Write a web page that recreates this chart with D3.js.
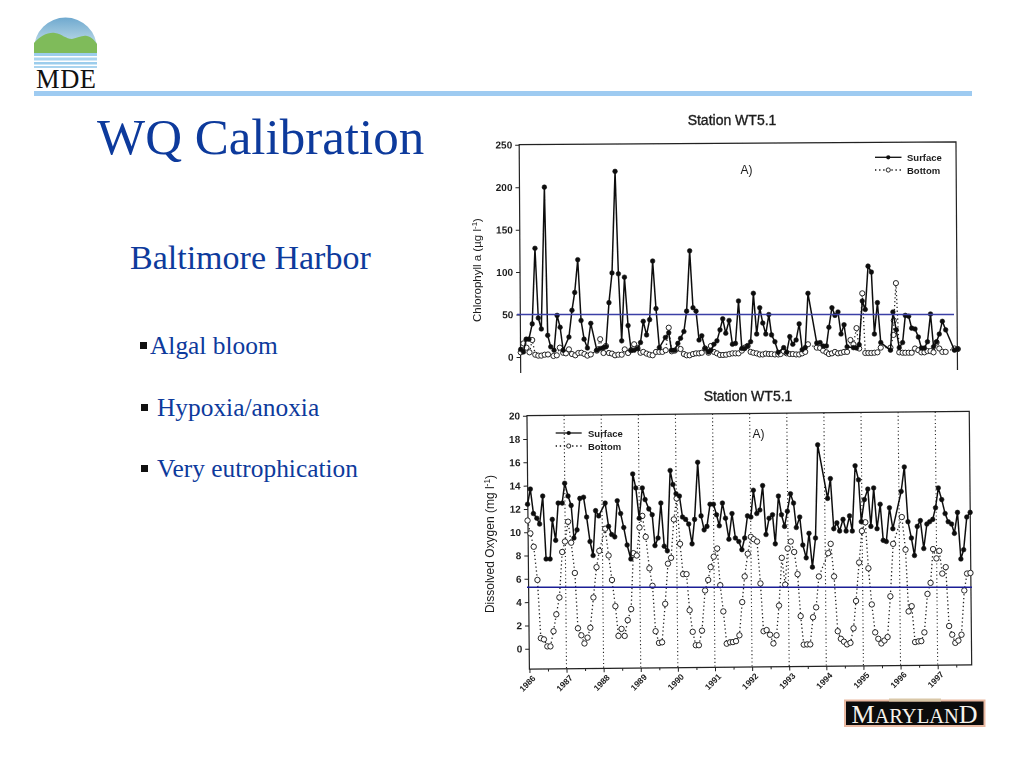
<!DOCTYPE html>
<html><head><meta charset="utf-8">
<style>html,body{margin:0;padding:0;background:#fff;overflow:hidden}svg{display:block}</style>
<script src="https://cdn.jsdelivr.net/npm/d3@7/dist/d3.min.js"></script>
</head><body><svg id="s" width="1024" height="768"></svg>
<script>
const yearLabels=["1986","1987","1988","1989","1990","1991","1992","1993","1994","1995","1996","1997"];
const chlTicks=[0,50,100,150,200,250];
const doTicks=[0,2,4,6,8,10,12,14,16,18,20];
const chlThreshold=50, doThreshold=5.27;
const chlSurfaceMonths=[0,.9,1.8,2.7,3.8,4.7,5.8,6.8,7.8,8.9,9.9,11,12,13,14,15.9,16.9,17.8,18.8,19.9,20.9,22,23.1,25.1,26.2,27.3,28.1,29.1,30.1,31.1,32.2,33.3,34.2,35.4,36.4,37.4,38.5,39.5,40.4,41.5,42.5,43.5,44.6,45.7,47.7,48.8,49.7,50.8,51.8,52.7,53.8,54.7,55.7,56.8,57.8,58.8,59.7,60.8,61.9,62.7,63.7,64.7,65.7,
66.6,67.6,68.7,69.8,70.8,71.8,72.9,73.8,74.8,75.8,76.7,77.8,78.8,79.8,80.8,81.8,82.7,83.8,84.9,86.7,87.7,88.7,89.7,90.8,91.8,92.8,93.8,94.7,97.6,98.7,99.7,100.8,101.6,102.6,103.6,104.6,105.6,106.6,107.6,109.7,110.7,111.6,112.6,113.6,114.5,115.6,116.6,117.6,118.7,121.9,122.7,123.8,124.8,125.9,126.8,127.9,128.9,130,131.1,132.1,133.1,134.1,135.1,136.1,137.1,138,139,140.1,143,144.1];
const chlSurface=[9,6,21,21,39,128,46,33,200,25.5,12,8,49,35,8,23.5,55,76,114.6,43,21,10.6,39.6,8,10,11,12,64,99,218.6,98,19,94,37,8,8,10,17,42,26,44,113,57,11,23,28.6,8,8,16,22,30,54,125,58,54,20,25,10,6,8,15,19,32,
45,28,43,15,16,66,10,10,13,18,75,27,58,40,27,50,26,18,5.5,11,5.5,24,15,20,39,8.6,11,75,16.5,17,13,13,35,58,49,53,27,38,12,11,10.6,14.5,66,56,107,100,27,64,17,8,53,32,11,17,49,48,34,33,23.5,10.6,10.6,18,50.6,12,18,27,42,32,8,9.4];
const chlBottomMonths=[0,.9,1.9,2.9,3.8,4.8,5.8,6.8,7.9,9,10.8,11.9,12.9,14,14.9,15.9,16.9,18,19,20,21,22,23.1,25.1,26.2,27.3,28.1,29.1,30.1,31.1,32.2,33.3,34.3,35.4,36.4,37.4,38.5,39.5,40.4,41.5,42.5,43.5,44.6,45.7,46.7,47.8,48.8,49.8,50.8,51.8,52.7,53.8,54.7,55.7,56.8,57.8,58.8,59.7,60.8,61.9,62.7,63.7,64.7,65.7,
66.7,67.7,68.8,69.8,70.8,71.8,72.9,73.8,74.8,75.8,76.7,77.8,78.8,79.8,80.8,81.8,82.7,83.8,84.9,85.7,86.7,87.7,88.7,89.7,90.8,91.8,92.8,93.8,94.7,97.6,98.7,99.7,100.8,101.6,102.6,103.6,104.6,105.6,106.6,107.6,108.7,109.7,110.7,111.6,112.6,113.6,114.6,115.6,116.6,117.6,118.7,121.9,122.9,123,123.7,124.8,125.9,126.8,127.9,128.9,130,131.1,132.1,133.1,134.1,135.1,136.1,137.1,138,139,140.1,143,144.1];
const chlBottom=[5.5,16,11,5.5,20,2.7,1.6,1.6,2.7,3,1.2,2,11,5,4.3,9,3.5,2,4.7,5,3.5,1.6,3,7.5,21,4.7,13,4.7,4,2,2.7,2.7,9,4.7,8,15,10.6,5,6,4,2.7,2,6,6,6,8,34.5,6.7,7.5,10,9.4,3.5,2,2,3.5,4.3,4.3,5,10,5,13,6,4.3,2.4,
2.4,2.7,3.5,4.3,4.3,4.3,7.5,11,13,6,5,4.3,3,3,4,3.5,3.5,3,3,3.5,7,4.3,3.5,3.5,3,3,4.3,6,15,11,10.6,7.5,5.5,3.5,4.3,6,4.3,5,6,6,20,15,34,10,75,4.7,4.7,4.7,5,5.5,11,11,26,43,87,5.5,5,5,5,5,10,8,5.5,5.5,7,7,5.5,17,10,6,6,10,9.4];
const doSurfaceMonths=[-.6,.3,1.3,2.4,3.3,4.3,5.4,6.7,7.4,8.5,9.3,10.6,11.4,12.5,13.5,14.4,15.4,16.3,17.5,18.5,19.6,20.6,21.4,22.4,24.5,25.6,26.6,27.6,28.4,29.5,30.5,31.6,32.8,33.4,34.4,35.5,36.5,37.4,38.6,39.7,40.6,41.6,42.5,43.6,44.6,45.5,46.4,47.4,48.5,49.5,50.5,51.5,52.6,53.4,54.4,55.5,56.5,57.4,58.4,59.5,60.5,61.4,62.4,63.4,
64.5,65.5,66.6,67.7,68.7,69.6,70.5,71.6,72.4,73.5,74.5,75.4,76.5,77.5,78.6,79.5,80.5,81.5,82.5,83.4,84.4,85.4,86.3,87.4,88.4,89.5,90.4,91.5,92.5,93.2,96.4,97.3,98.4,99.4,100.3,101.4,102.4,103.5,104.4,105.3,106.4,107.3,108.3,109.4,110.4,111.3,112.4,113.4,114.4,115.4,116.4,117.5,120.2,121.2,122.4,123.5,124.5,125.4,126.4,127.5,128.5,129.4,130.4,131.3,132.2,133.3,134.4,135.4,136.5,137.4,138.4,139.5,140.4,141.4,142.5];
const doSurface=[12.4,13.7,11.6,11.2,10.7,13.1,7.7,7.7,11.1,9.3,12.5,12.5,14.2,13.1,12.3,9.5,10.2,12.9,13,11.3,9.2,8,11.85,11.4,12.5,10.5,9.8,9.6,12.7,11.6,10.4,8.9,7.7,15,13.8,11.2,13.8,12.8,12,11.5,8.85,9.5,12.5,8.8,8.4,15.3,14.1,13.3,13.1,11.3,11.1,10.7,9,11.1,16,11.4,10.2,10.5,12.4,12.4,11.5,10.55,12.5,11.2,
9.4,11.6,9.5,9.2,8.5,9.5,11.4,11.3,13.6,11.6,11.9,14,9.8,11.2,11.5,9,13.1,11.5,10.5,11.8,13.3,12.5,10.4,11.3,8.9,7.8,9.9,7,9.5,17.5,12.9,14.6,10.3,10.8,10.1,11.1,10.1,11.4,10.1,15.7,14.5,10.9,12.8,13.7,10.5,13.8,10.3,12.4,9.3,9.2,12.1,10.3,13.5,15.6,10.9,9.5,8,10.5,11,8.6,10.7,10.9,11.1,12.1,13.8,12.8,11.6,10.9,10.7,9.9,11.7,7.7,8.5,11.3,11.7];
const doBottomMonths=[-.6,.3,1.4,2.6,3.7,4.7,5.8,6.8,7.8,8.7,9.7,10.6,11.5,12.5,13.5,14.7,15.7,16.8,17.8,18.8,19.7,20.7,21.7,22.6,24.5,25.6,26.7,27.8,28.8,29.8,30.8,31.8,32.9,33.6,34.7,35.6,36.5,37.6,38.8,39.8,40.8,41.9,42.9,43.9,44.8,45.8,46.7,47.6,48.7,49.7,50.8,51.8,52.8,53.8,54.8,55.8,56.8,57.8,58.6,59.6,60.7,61.7,62.7,63.8,
64.9,65.8,66.8,67.9,68.8,69.6,70.6,71.6,72.5,73.6,74.7,75.7,76.7,77.8,78.9,79.9,80.7,81.6,82.7,83.5,84.5,85.6,86.7,87.7,88.7,89.8,90.8,91.7,92.7,93.6,96.6,97.4,98.5,99.7,100.7,101.7,102.7,103.8,104.8,105.6,106.6,107.5,108.6,109.6,110.7,111.8,112.8,113.8,114.8,115.8,116.7,117.6,120.4,121.6,122.6,123.6,124.7,125.8,126.7,127.7,128.7,129.7,130.5,131.6,132.5,133.5,134.6,135.7,136.7,137.7,138.7,139.7,140.6,141.5,142.6];
const doBottom=[11,9.9,8.75,5.9,.9,.8,.2,.2,1.5,2.95,4.4,8.3,9.2,10.9,9.1,6.5,1.75,1.15,.45,.95,1.8,4.4,7,8.4,10.3,8,5.9,3.65,1.1,1.7,1.1,2.45,3.4,8.2,8,10.4,11.4,9.6,6.9,5.4,1.5,.5,.55,3.85,7.3,7.8,11.1,12.9,9,6.4,6.4,3.3,1.45,.3,.3,1.55,5,5.9,7,7.9,8.6,5.45,3.2,.43,
.55,.57,.65,1.15,4,6.2,8.15,9.6,9.4,9.2,5.6,1.5,1.6,1.2,.45,1.15,3.7,7.8,5.5,8.6,9.2,8.3,6.4,2.8,.35,.37,.37,2.7,3.55,6.2,8.2,9,6.2,1.5,.85,.6,.37,.5,1.75,4.1,7.4,10.1,10.85,6.9,3.8,1.4,.85,.45,.7,1,4.5,9,11.3,8.5,3.2,3.65,.57,.63,.65,1.4,4.7,5.65,8.55,7.75,8.4,6.45,7,1.95,1.2,.5,.7,1.2,5,6.45,6.5];

const svg=d3.select("#s");
const BLUE="#0d3a9c", INK="#1c1c1c", SANS="'Liberation Sans',Arial,sans-serif", SERIF="'Liberation Serif','Times New Roman',serif";
const defs=svg.append("defs");
const grad=defs.append("linearGradient").attr("id","sky").attr("x1",0).attr("x2",0).attr("y1",0).attr("y2",1);
grad.append("stop").attr("offset","0").attr("stop-color","#6fa9cf");
grad.append("stop").attr("offset","1").attr("stop-color","#d4e9ef");
defs.append("filter").attr("id","scan").append("feGaussianBlur").attr("stdDeviation",0.3);

// logo
const logo=svg.append("g");
logo.append("path").attr("d","M34 53V49A31.5 31.5 0 0 1 97 49V53Z").attr("fill","url(#sky)");
logo.append("path").attr("d","M34 53V43C40 36 48 32 55 33C62 34 66 39 72 39C78 38 82 35 87 36C92 37 95 41 97 44V53Z").attr("fill","#7fbb5a");
[[53,3],[57.5,3],[62,2.5],[66,2]].forEach(([y,h],i)=>logo.append("rect").attr("x",34).attr("y",y).attr("width",63).attr("height",h).attr("fill",i%2?"#a9d4ef":"#9ccdec"));
logo.append("text").attr("x",36).attr("y",88).attr("font-family",SERIF).attr("font-size",26.5).attr("fill","#111").attr("textLength",60).text("MDE");
svg.append("rect").attr("x",34).attr("y",91).attr("width",938).attr("height",5).attr("fill","#9ecbf1");

// slide text
const txt=(x,y,s,t)=>svg.append("text").attr("x",x).attr("y",y).attr("font-family",SERIF).attr("font-size",s).attr("fill",BLUE).text(t);
txt(97,154,51,"WQ Calibration");
txt(130,269,34,"Baltimore Harbor");
txt(150,354,25.4,"Algal bloom");
txt(157,416,25.4,"Hypoxia/anoxia");
txt(157,477,25.4,"Very eutrophication");
[[140,342],[141,404],[141,465]].forEach(([x,y])=>svg.append("rect").attr("x",x).attr("y",y).attr("width",7).attr("height",7).attr("fill","#111"));

// Maryland
const md=svg.append("g");
md.append("rect").attr("x",845).attr("y",700.5).attr("width",139.5).attr("height",25.5).attr("fill","#0b0b0b").attr("stroke","#e9b9a2").attr("stroke-width",2);
md.append("rect").attr("x",889).attr("y",698.5).attr("width",52).attr("height",3).attr("fill","#d9c7a8");
const mdt=md.append("text").attr("x",914.5).attr("y",723).attr("text-anchor","middle").attr("font-family",SERIF).attr("fill","#f5f1ea");
mdt.append("tspan").attr("font-size",26).text("M");
mdt.append("tspan").attr("font-size",20.5).text("ARYLAN");
mdt.append("tspan").attr("font-size",26).text("D");

const charts=svg.append("g").attr("filter","url(#scan)");

function series(g,x,y,months,vals,surface,r){
  const pts=d3.zip(months,vals);
  const line=d3.line().x(d=>x(d[0])).y(d=>y(d[1]));
  g.append("path").attr("d",line(pts)).attr("fill","none").attr("stroke",surface?"#111":"#222")
   .attr("stroke-width",surface?1.5:1.3).attr("stroke-dasharray",surface?null:"1.3 2.6");
  g.selectAll(null).data(pts).join("circle").attr("cx",d=>x(d[0])).attr("cy",d=>y(d[1])).attr("r",r)
   .attr("fill",surface?"#111":"#fff").attr("stroke","#111").attr("stroke-width",surface?0.6:0.9);
}
function legend(g,x0,x1,tx,y1,y2,size){
  const mx=(x0+x1)/2;
  g.append("line").attr("x1",x0).attr("x2",x1).attr("y1",y1).attr("y2",y1).attr("stroke","#111").attr("stroke-width",1.3);
  g.append("circle").attr("cx",mx).attr("cy",y1).attr("r",2.1).attr("fill","#111");
  g.append("line").attr("x1",x0).attr("x2",x1).attr("y1",y2).attr("y2",y2).attr("stroke","#111").attr("stroke-width",1.3).attr("stroke-dasharray","1.3 2.8");
  g.append("circle").attr("cx",mx).attr("cy",y2).attr("r",2.1).attr("fill","#fff").attr("stroke","#111").attr("stroke-width",.9);
  [[y1,"Surface"],[y2,"Bottom"]].forEach(([y,t])=>g.append("text").attr("x",tx).attr("y",y+3.5).attr("font-family",SANS).attr("font-size",size).attr("font-weight","bold").attr("fill",INK).text(t));
}
function styleAxis(a,size){
  a.selectAll("text").attr("font-family",SANS).attr("font-size",size).attr("font-weight","bold").attr("fill",INK);
  a.selectAll("line").attr("stroke","#222").attr("stroke-width",1);
  a.select(".domain").attr("stroke","none");
}
const title=(x,y)=>charts.append("text").attr("x",x).attr("y",y).attr("text-anchor","middle").attr("font-family",SANS).attr("font-size",14).attr("fill",INK).attr("stroke",INK).attr("stroke-width",.35).text("Station WT5.1");
function ylabel(x,y,size,main,unit){
  const t=charts.append("text").attr("transform",`translate(${x},${y}) rotate(-90)`).attr("text-anchor","middle").attr("font-family",SANS).attr("font-size",size).attr("fill",INK);
  t.append("tspan").text(main+" ("+unit+" l");
  t.append("tspan").attr("dy",-4).attr("font-size",size*.7).text("-1");
  t.append("tspan").attr("dy",4).text(")");
}

// Chlorophyll
{
  const x=d3.scaleLinear().domain([0,144]).range([520.7,957.5]);
  const y=d3.scaleLinear().domain([0,250]).range([357,144.7]);
  title(732,125);
  const f=charts.append("g").attr("transform","rotate(-0.38 521 373)");
  f.append("path").attr("fill","none").attr("stroke","#222").attr("stroke-width",1.2)
   .attr("d",`M${x(0)} 373V${y(250)}H${x(144)}V373`);
  const a=f.append("g").attr("transform",`translate(${x(0)},0)`).call(d3.axisLeft(y).tickValues(chlTicks).tickSize(4).tickPadding(3));
  styleAxis(a,10);
  ylabel(481,270,11.5,"Chlorophyll a","\u00b5g");
  series(charts,x,y,chlBottomMonths,chlBottom,false,2.6);
  series(charts,x,y,chlSurfaceMonths,chlSurface,true,2.3);
  charts.append("line").attr("x1",517).attr("x2",954).attr("y1",y(chlThreshold)).attr("y2",y(chlThreshold)).attr("stroke","#3b3fa6").attr("stroke-width",1.4);
  legend(charts,875,901.5,907,157.3,170,9.5);
  charts.append("text").attr("x",740.5).attr("y",173.5).attr("font-family",SANS).attr("font-size",12).attr("fill",INK).text("A)");
}
// Dissolved oxygen
{
  const x=d3.scaleLinear().domain([0,144]).range([529.4,974.8]);
  const y=d3.scaleLinear().domain([0,20]).range([648.7,415.7]);
  const bottom=y(-1.75);
  title(748,401);
  const f=charts.append("g").attr("transform",`rotate(-0.55 ${x(0)} ${bottom})`);
  const last=143;
  f.append("path").attr("fill","none").attr("stroke","#222").attr("stroke-width",1.2)
   .attr("d",`M${x(0)} ${bottom}V${y(20)}H${x(last)}V${bottom}Z`);
  const a=f.append("g").attr("transform",`translate(${x(0)},0)`).call(d3.axisLeft(y).tickValues(doTicks).tickSize(4).tickPadding(3));
  styleAxis(a,10);
  const yearMonths=yearLabels.map((_,i)=>i*12);
  f.selectAll(null).data(yearMonths.slice(1)).join("line").attr("x1",d=>x(d)).attr("x2",d=>x(d)).attr("y1",y(20)).attr("y2",bottom)
   .attr("stroke","#222").attr("stroke-width",1.1).attr("stroke-dasharray","1.1 2.6");
  const b=f.append("g").attr("transform",`translate(0,${bottom})`)
    .call(d3.axisBottom(x).tickValues(yearMonths).tickSize(4).tickFormat((d,i)=>yearLabels[i]));
  styleAxis(b,8.5);
  b.selectAll("text").attr("text-anchor","end").attr("transform","rotate(-45)").attr("dx","-0.3em").attr("dy","0.5em");
  f.append("g").attr("transform",`translate(0,${bottom})`).call(d3.axisBottom(x).tickValues(yearMonths.map(d=>d+6)).tickSize(2.5).tickFormat(""))
    .call(s=>{s.select(".domain").attr("stroke","none");s.selectAll("line").attr("stroke","#222");});
  ylabel(494,544,12,"Dissolved Oxygen","mg");
  series(charts,x,y,doBottomMonths,doBottom,false,2.7);
  series(charts,x,y,doSurfaceMonths,doSurface,true,2.3);
  charts.append("line").attr("x1",527).attr("x2",972).attr("y1",y(doThreshold)).attr("y2",y(doThreshold)).attr("stroke","#1d1f96").attr("stroke-width",1.4);
  legend(charts,555.7,581.7,588,433,446,9.5);
  charts.append("text").attr("x",752.5).attr("y",437.5).attr("font-family",SANS).attr("font-size",12).attr("fill",INK).text("A)");
}
</script></body></html>
